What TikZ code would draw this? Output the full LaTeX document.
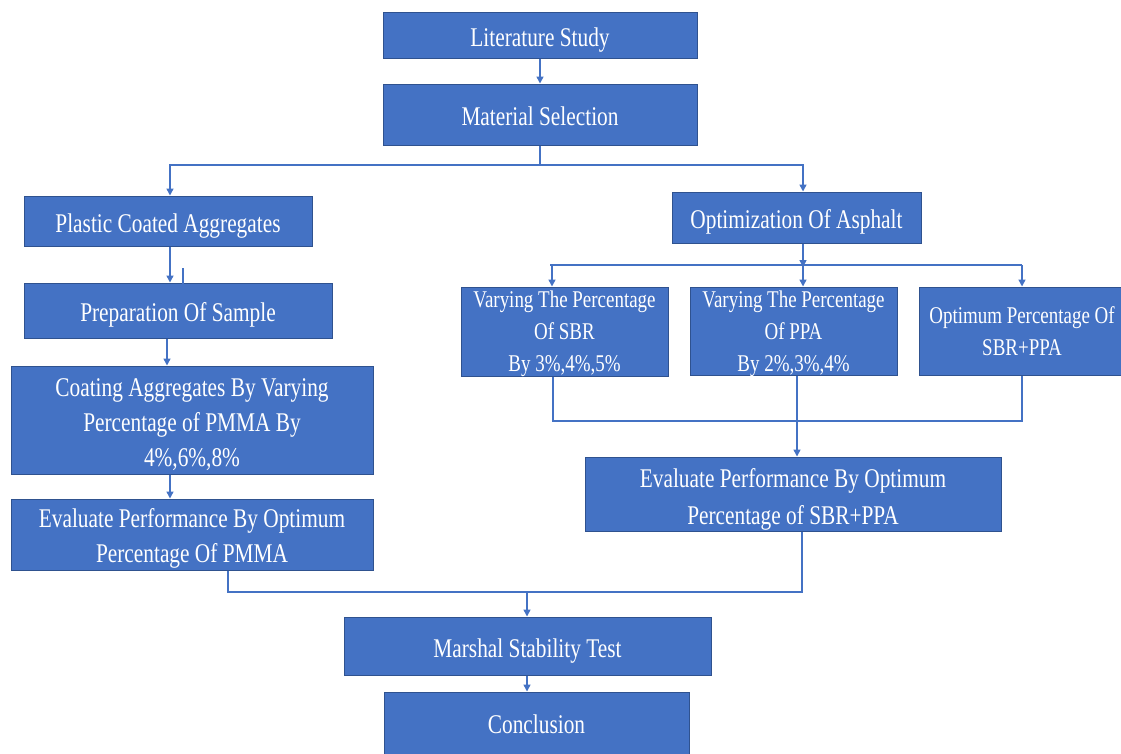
\documentclass[tikz,border=0pt]{standalone}
\usepackage{fontspec}
\usetikzlibrary{arrows.meta,calc}
\newfontfamily\boxfont[FakeStretch=0.79]{Liberation Serif}
\definecolor{boxblue}{HTML}{4472C4}
\definecolor{boxborder}{HTML}{2F528F}
\definecolor{linkblue}{HTML}{4472C4}
\newcommand{\lowtext}[2][4pt]{\raisebox{-#1}[\dimexpr\height-5pt\relax][\dimexpr\depth-5pt\relax]{\begin{tabular}{@{}c@{}}#2\end{tabular}}}
\begin{document}
\begin{tikzpicture}[x=1pt,y=-1pt,
  box/.style={draw=boxborder, fill=boxblue, text=white, line width=1pt, inner sep=0pt,
    align=center, font=\boxfont\fontsize{27}{35}\selectfont},
  tallbox/.style={box, font=\boxfont\fontsize{27}{37}\selectfont},
  smallbox/.style={box, font=\boxfont\fontsize{24}{32}\selectfont},
  link/.style={draw=linkblue, line width=1.5pt},
  arr/.style={link, -{Triangle[length=7pt,width=7pt]}}]
\useasboundingbox[fill=white] (0,0) rectangle (1121,753);

\node[box, minimum width=314pt, minimum height=46pt] (lit) at (540,35) {\lowtext{Literature Study}};
\node[box, minimum width=314pt, minimum height=61pt] (mat) at (540,114.5) {\lowtext{Material Selection}};
\node[box, minimum width=288pt, minimum height=50pt] (pca) at (168,221) {\lowtext{Plastic Coated Aggregates}};
\node[box, minimum width=249pt, minimum height=51pt] (opt) at (796.5,217.5) {\lowtext{Optimization Of Asphalt}};
\node[box, minimum width=308pt, minimum height=55pt] (prep) at (178,310.5) {\lowtext{Preparation Of Sample}};
\node[box, minimum width=362pt, minimum height=108pt] (coat) at (192,420) {\lowtext{Coating Aggregates By Varying\\Percentage of PMMA By\\4\%,6\%,8\%}};
\node[box, minimum width=362pt, minimum height=71pt] (evp) at (192,534.5) {\lowtext[3pt]{Evaluate Performance By Optimum\\Percentage Of PMMA}};
\node[smallbox, minimum width=207pt, minimum height=89pt] (vsbr) at (564.5,331.5) {\lowtext[2pt]{Varying The Percentage\\Of SBR\\By 3\%,4\%,5\%}};
\node[smallbox, minimum width=207pt, minimum height=88pt] (vppa) at (793.5,331) {\lowtext[2pt]{Varying The Percentage\\Of PPA\\By 2\%,3\%,4\%}};
\node[smallbox, minimum width=206pt, minimum height=88pt] (optp) at (1022,331) {\lowtext[2pt]{Optimum Percentage Of\\SBR+PPA}};
\node[tallbox, minimum width=416pt, minimum height=74pt] (evs) at (793,494) {\lowtext[5pt]{Evaluate Performance By Optimum\\Percentage of SBR+PPA}};
\node[box, minimum width=367pt, minimum height=58pt] (mar) at (527.5,646) {\lowtext{Marshal Stability Test}};
\node[box, minimum width=305pt, minimum height=66pt] (con) at (536.5,725) {\lowtext[1pt]{Conclusion}};

% junction coordinates
\coordinate (j1) at (540,165);
\coordinate (j2) at (803,265);
\coordinate (j3) at (797,421);
\coordinate (j4) at (527,592);
\coordinate (t1) at (183,268);
\coordinate (t2) at (183,284);

\draw[arr] (lit.south) -- (mat.north);
\draw[link] (mat.south) -- (j1);
\draw[arr] (j1) -| (pca.north -| 170,0);
\draw[arr] (j1) -| (opt.north -| 803,0);

\draw[arr] (pca.south -| 170,0) -- (prep.north -| 170,0);
\draw[link] (t1) -- (t2);
\draw[arr] (prep.south -| 167,0) -- (coat.north -| 167,0);
\draw[arr] (coat.south -| 170,0) -- (evp.north -| 170,0);

\draw[arr] (opt.south -| j2) -- ([yshift=-2pt]j2);
\draw[link] (j2 -| 550,0) -- (j2 -| 1022,0);
\draw[arr] (j2 -| 552,0) -- (vsbr.north -| 552,0);
\draw[arr] (j2) -- (vppa.north -| j2);
\draw[arr] (j2 -| 1022,0) -- (optp.north -| 1022,0);

\draw[link] (vsbr.south -| 553,0) |- (j3) -| (optp.south -| 1022,0);
\draw[arr] (vppa.south -| j3) -- (evs.north -| j3);

\draw[link] (evp.south -| 228,0) |- (j4) -| (evs.south -| 802,0);
\draw[arr] (j4) -- (mar.north -| j4);
\draw[arr] (mar.south -| j4) -- (con.north -| j4);
\end{tikzpicture}
\end{document}
